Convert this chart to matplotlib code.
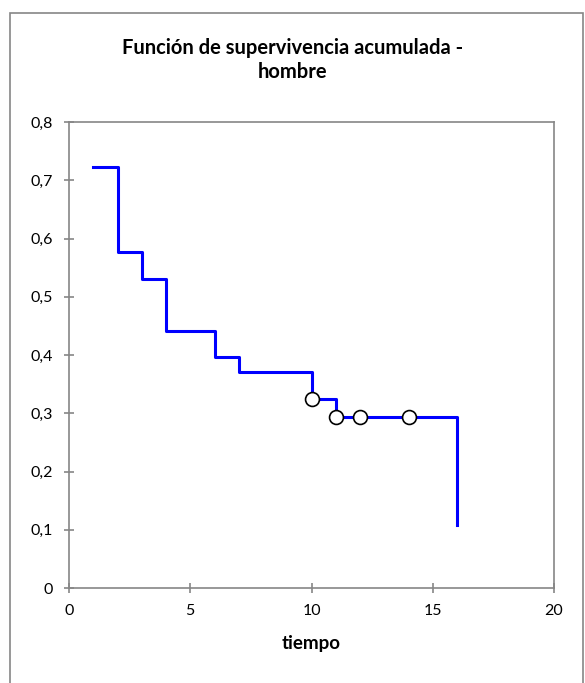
import matplotlib
matplotlib.use('Agg')
import matplotlib.pyplot as plt
from matplotlib.patches import Rectangle

# datos de la curva
tiempo = [1, 2, 3, 4, 6, 7, 10, 11, 16]
superv = [0.722, 0.577, 0.531, 0.441, 0.396, 0.371, 0.325, 0.294, 0.108]
# observaciones censuradas
cens_t = [10, 11, 12, 14]
cens_s = [0.325, 0.294, 0.294, 0.294]

xticks = [0, 5, 10, 15, 20]
yticks = [0, 0.1, 0.2, 0.3, 0.4, 0.5, 0.6, 0.7, 0.8]
ylabels = ['0', '0,1', '0,2', '0,3', '0,4', '0,5', '0,6', '0,7', '0,8']

plt.rcParams['font.family'] = ['Lato', 'DejaVu Sans']
gris = '#868686'

W, H = 585, 683
fig = plt.figure(figsize=(W / 100, H / 100), dpi=100)
# marco exterior del grafico
fig.patches.append(Rectangle((10 / W, -0.1), (583 - 10) / W, 1.1 - 13 / H,
                             transform=fig.transFigure, fill=False,
                             edgecolor=gris, linewidth=1.2))

ax = fig.add_axes([69 / W, 1 - 588 / H, (554 - 69) / W, (588 - 122) / H])
ax.plot(tiempo, superv, drawstyle='steps-post', color='#0000ff', linewidth=2.2)
ax.plot(cens_t, cens_s, 'o', markersize=10, markerfacecolor='white',
        markeredgecolor='black', markeredgewidth=1.2, linestyle='none')

ax.set_xlim(0, 20)
ax.set_ylim(0, 0.8)
ax.set_xticks(xticks)
ax.set_yticks(yticks)
ax.set_yticklabels(ylabels)
for s in ax.spines.values():
    s.set_color(gris)
    s.set_linewidth(1.2)
ax.tick_params(axis='both', colors=gris, labelcolor='black', labelsize=11.5,
               direction='inout', length=7, width=1.2)
ax.tick_params(axis='x', pad=8)
ax.tick_params(axis='y', pad=8)

ax.set_xlabel('tiempo', fontsize=13.5, fontweight='bold', labelpad=12)
fig.text(0.5, 1 - 60 / H, 'Función de supervivencia acumulada -\nhombre',
         ha='center', va='center', fontsize=14.5, fontweight='bold',
         linespacing=1.3)

fig.savefig('out.png', dpi=100)
